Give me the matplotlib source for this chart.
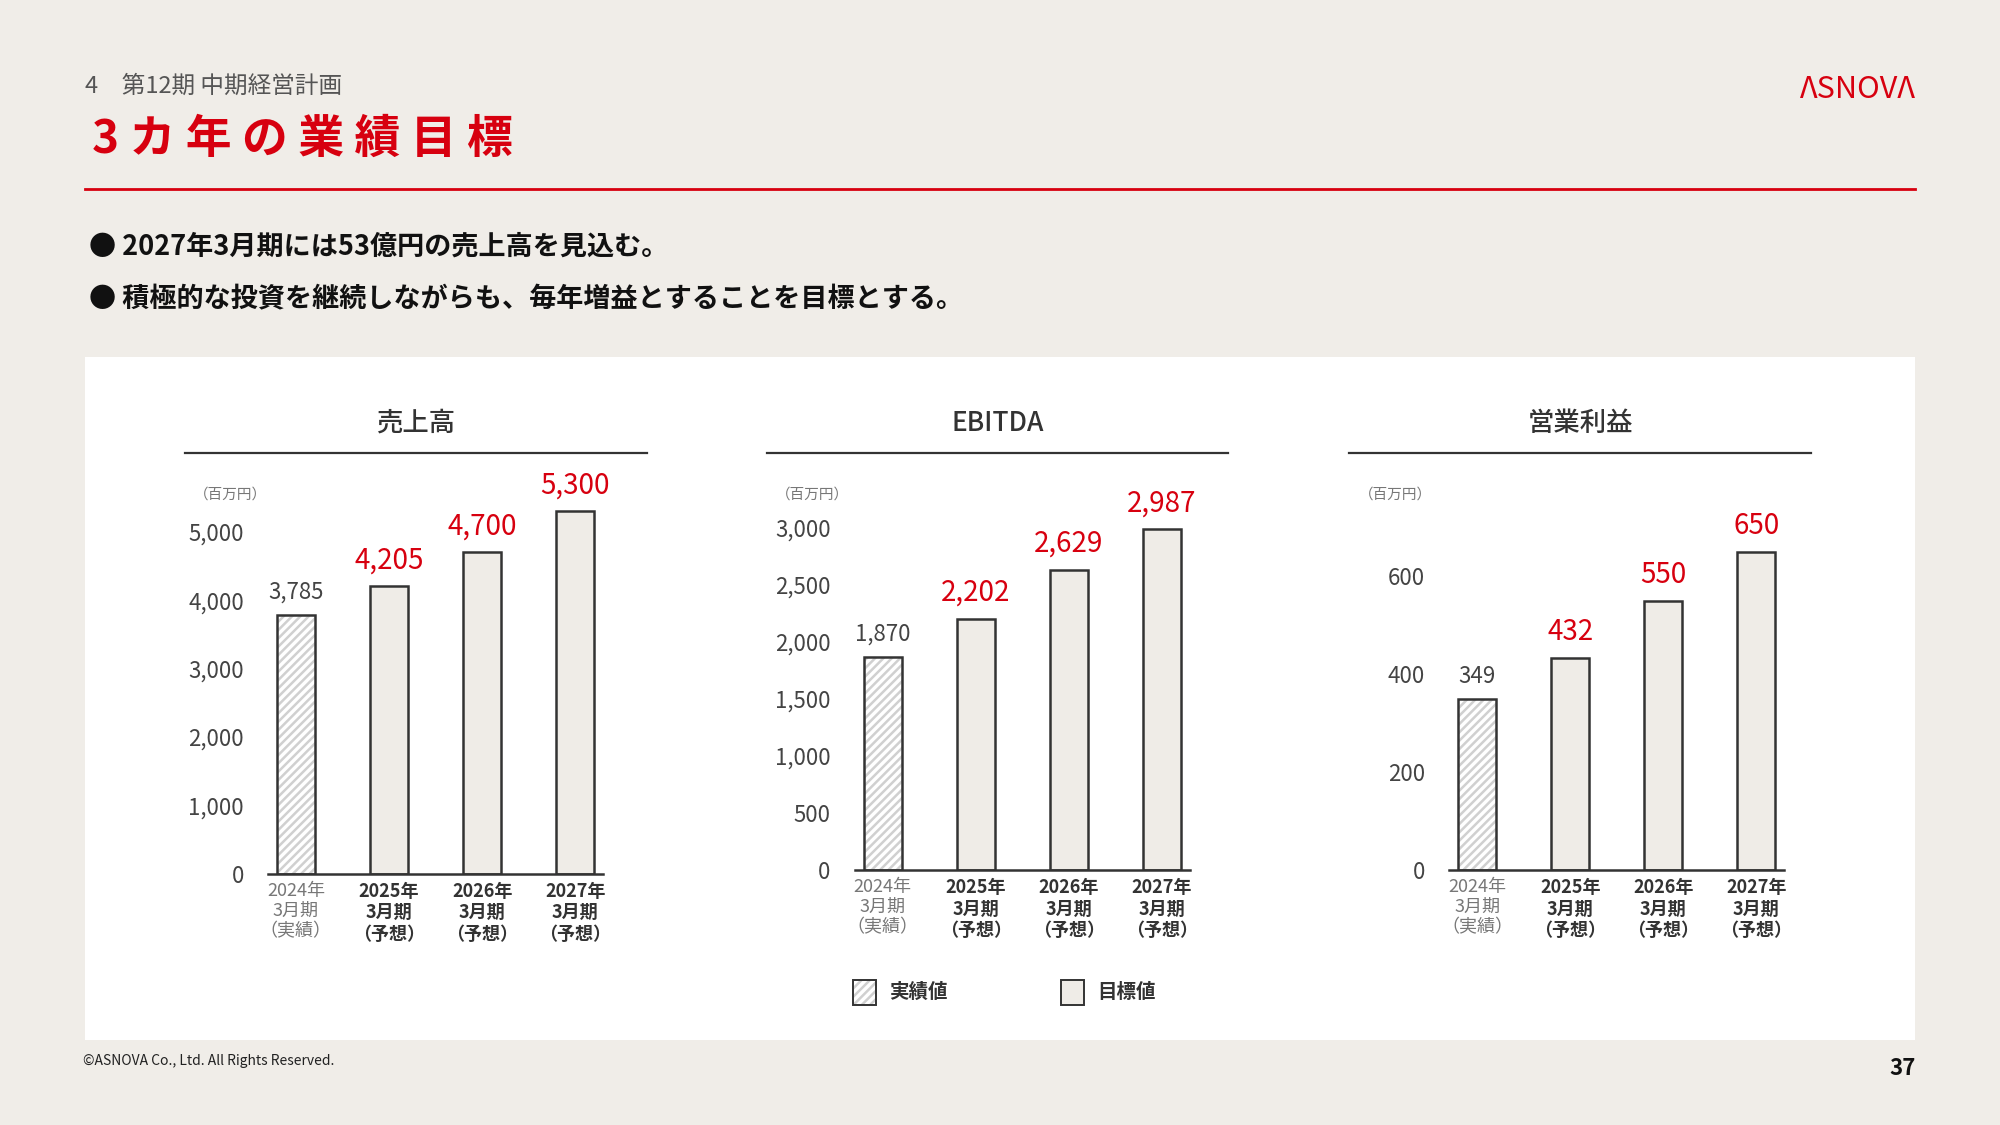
import matplotlib.pyplot as plt
import matplotlib as mpl

mpl.rcParams['font.family'] = 'Noto Sans CJK JP'
mpl.rcParams['hatch.linewidth'] = 1.8

# data
periods = ['2024年\n3月期\n（実績）', '2025年\n3月期\n（予想）', '2026年\n3月期\n（予想）', '2027年\n3月期\n（予想）']
sales = [3785, 4205, 4700, 5300]
ebitda = [1870, 2202, 2629, 2987]
op_profit = [349, 432, 550, 650]
titles = ['売上高', 'EBITDA', '営業利益']
sales_ticks = [0, 1000, 2000, 3000, 4000, 5000]
ebitda_ticks = [0, 500, 1000, 1500, 2000, 2500, 3000]
op_ticks = [0, 200, 400, 600]

W, H = 1568, 882
def fx(x): return x / W
def fy(y): return 1 - y / H

BG = '#f0ede8'
RED = '#d7000f'
DARK = '#333333'
HATCH = '#d0d0d0'

fig = plt.figure(figsize=(20, 11.25), dpi=100, facecolor=BG)

# header
fig.text(fx(67), fy(68), '4　第12期 中期経営計画', fontsize=17, color='#555555', va='center')
fig.text(fx(72), fy(110), '3 カ 年 の 業 績 目 標', fontsize=33, color=RED, fontweight='bold', va='center')
fig.text(fx(1502), fy(70), 'ΛSNOVΛ', fontsize=22, color=RED, ha='right', va='center')
fig.add_artist(plt.Line2D([fx(67), fx(1501)], [fy(148), fy(148)], color=RED, lw=2))
fig.text(fx(70), fy(193), '● 2027年3月期には53億円の売上高を見込む。', fontsize=19.5, fontweight='bold', va='center', color='#111111')
fig.text(fx(70), fy(235), '● 積極的な投資を継続しながらも、毎年増益とすることを目標とする。', fontsize=19.5, fontweight='bold', va='center', color='#111111')

# white panel
fig.add_artist(plt.Rectangle((fx(67), fy(815)), fx(1501) - fx(67), fy(280) - fy(815),
                             transform=fig.transFigure, facecolor='white', edgecolor='none', zorder=0))

charts = [
    (sales, sales_ticks, 145, 507, 195.5, 487.5, 685, 5690),
    (ebitda, ebitda_ticks, 601, 963, 655.5, 947.5, 682, 3378),
    (op_profit, op_ticks, 1058, 1420, 1121.5, 1413.5, 682, 787),
]

for k, (vals, ticks, lx0, lx1, ax0, ax1_, y0, ytop) in enumerate(charts):
    fig.text(fx((lx0 + lx1) / 2), fy(332), titles[k], fontsize=19, ha='center', va='center',
             color=DARK, fontweight='medium')
    fig.add_artist(plt.Line2D([fx(lx0), fx(lx1)], [fy(355), fy(355)], color=DARK, lw=1.6))
    fig.text(fx(lx0 + 7), fy(388), '（百万円）', fontsize=10.5, color='#777777', va='center')

    ax = fig.add_axes([fx(ax0), fy(y0), fx(ax1_) - fx(ax0), fy(380) - fy(y0)])
    ax.patch.set_alpha(0)
    x = range(len(vals))
    for i, v in enumerate(vals):
        if i == 0:
            # hatched fill in light grey, then dark outline on top
            ax.bar(i, v, width=0.41, color='white', edgecolor=HATCH, lw=0, hatch='////', zorder=2)
            ax.bar(i, v, width=0.41, fill=False, edgecolor=DARK, lw=1.8, zorder=3)
            ax.annotate(f'{v:,}', (i, v), xytext=(0, 8), textcoords='offset points',
                        ha='center', va='bottom', fontsize=16, color='#444444')
        else:
            ax.bar(i, v, width=0.41, color='#efece7', edgecolor=DARK, lw=1.8, zorder=2)
            ax.annotate(f'{v:,}', (i, v), xytext=(0, 8), textcoords='offset points',
                        ha='center', va='bottom', fontsize=20, color=RED)
    ax.set_xlim(-0.5, 3.5)
    ax.set_ylim(0, ytop)
    ax.set_yticks(ticks)
    ax.set_yticklabels([f'{t:,}' for t in ticks], fontsize=16, color='#444444')
    ax.tick_params(axis='y', length=0, pad=4)
    ax.set_xticks(list(x))
    ax.set_xticklabels(periods, fontsize=13, linespacing=1.15)
    ax.tick_params(axis='x', length=0, pad=6)
    for i, lab in enumerate(ax.get_xticklabels()):
        if i == 0:
            lab.set_color('#777777')
        else:
            lab.set_color(DARK)
            lab.set_fontweight('bold')
    for s in ['left', 'right', 'top']:
        ax.spines[s].set_visible(False)
    ax.spines['bottom'].set_color(DARK)
    ax.spines['bottom'].set_linewidth(1.8)
    ax.spines['bottom'].set_bounds(-0.3, 3.3)

# legend
for lx, lab, h in [(669, '実績値', '////'), (832, '目標値', None)]:
    if h:
        fig.add_artist(plt.Rectangle((fx(lx), fy(788)), fx(18), fy(768) - fy(788), transform=fig.transFigure,
                                     facecolor='white', edgecolor=HATCH, lw=0, hatch=h))
        fig.add_artist(plt.Rectangle((fx(lx), fy(788)), fx(18), fy(768) - fy(788), transform=fig.transFigure,
                                     fill=False, edgecolor=DARK, lw=1.4))
    else:
        fig.add_artist(plt.Rectangle((fx(lx), fy(788)), fx(18), fy(768) - fy(788), transform=fig.transFigure,
                                     facecolor='#efece7', edgecolor=DARK, lw=1.4))
    fig.text(fx(lx + 28), fy(778), lab, fontsize=14, fontweight='bold', va='center', color=DARK)

# footer
fig.text(fx(65), fy(832), '©ASNOVA Co., Ltd. All Rights Reserved.', fontsize=10, va='center', color='#222222')
fig.text(fx(1502), fy(838), '37', fontsize=16, fontweight='bold', ha='right', va='center', color='#111111')

fig.savefig('out.png', dpi=100, facecolor=BG)
